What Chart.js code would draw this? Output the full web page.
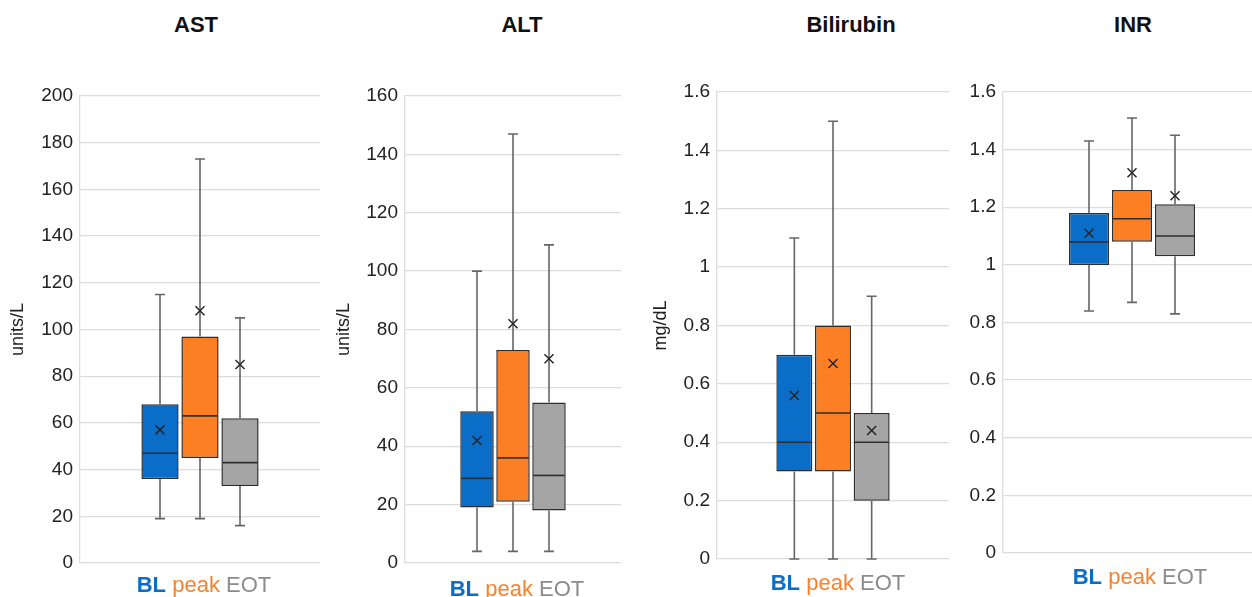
<!DOCTYPE html>
<html>
<head>
<meta charset="utf-8">
<script src="https://cdn.jsdelivr.net/npm/chart.js@4"></script>
<style>
  html, body { margin: 0; padding: 0; background: #fff; overflow: hidden; }
  body { width: 1252px; height: 597px; position: relative; font-family: "Liberation Sans", Arial, sans-serif; }
  .panel { position: absolute; }
  .title { position: absolute; font-weight: bold; font-size: 22px; line-height: 26px; color: #111; transform: translateX(-50%); white-space: nowrap; }
  .groups { position: absolute; font-size: 22px; line-height: 26px; transform: translateX(-50%); white-space: nowrap; }
  .bl { color: #0a6ec9; font-weight: 600; }
  .pk { color: #f7822e; }
  .eo { color: #8c8c8c; }
</style>
</head>
<body>
<div class="title" style="left:196px;top:12px">AST</div>
<div class="title" style="left:522px;top:12px">ALT</div>
<div class="title" style="left:851px;top:12px">Bilirubin</div>
<div class="title" style="left:1133px;top:12px">INR</div>

<div class="panel" id="p-ast"><canvas id="ast-chart"></canvas></div>
<div class="panel" id="p-alt"><canvas id="alt-chart"></canvas></div>
<div class="panel" id="p-bili"><canvas id="bili-chart"></canvas></div>
<div class="panel" id="p-inr"><canvas id="inr-chart"></canvas></div>

<div class="groups" style="left:204px;top:572px"><span class="bl">BL</span> <span class="pk">peak</span> <span class="eo">EOT</span></div>
<div class="groups" style="left:517px;top:576px"><span class="bl">BL</span> <span class="pk">peak</span> <span class="eo">EOT</span></div>
<div class="groups" style="left:838px;top:570px"><span class="bl">BL</span> <span class="pk">peak</span> <span class="eo">EOT</span></div>
<div class="groups" style="left:1140px;top:564px"><span class="bl">BL</span> <span class="pk">peak</span> <span class="eo">EOT</span></div>

<script>
const seriesNames = ["BL", "peak", "EOT"];
const seriesColors = ["#0a6ec9", "#fd7f23", "#a5a5a5"];

// AST (units/L)
const astMin = [19, 19, 16];
const astQ1 = [36, 45, 33];
const astMedian = [47, 63, 43];
const astQ3 = [68, 97, 62];
const astMax = [115, 173, 105];
const astMean = [57, 108, 85];

// ALT (units/L)
const altMin = [4, 4, 4];
const altQ1 = [19, 21, 18];
const altMedian = [29, 36, 30];
const altQ3 = [52, 73, 55];
const altMax = [100, 147, 109];
const altMean = [42, 82, 70];

// Bilirubin (mg/dL)
const biliMin = [0, 0, 0];
const biliQ1 = [0.3, 0.3, 0.2];
const biliMedian = [0.4, 0.5, 0.4];
const biliQ3 = [0.7, 0.8, 0.5];
const biliMax = [1.1, 1.5, 0.9];
const biliMean = [0.56, 0.67, 0.44];

// INR
const inrMin = [0.84, 0.87, 0.83];
const inrQ1 = [1.0, 1.08, 1.03];
const inrMedian = [1.08, 1.16, 1.1];
const inrQ3 = [1.18, 1.26, 1.21];
const inrMax = [1.43, 1.51, 1.45];
const inrMean = [1.11, 1.32, 1.24];

// whiskers, median and mean marker on top of the floating bars
const boxExtras = {
  id: "boxExtras",
  afterDatasetsDraw(chart) {
    const ctx = chart.ctx;
    const y = chart.scales.y;
    const st = chart.options.plugins.boxExtras;
    chart.data.datasets.forEach((ds, i) => {
      const bar = chart.getDatasetMeta(i).data[0];
      const x = bar.x;
      const half = bar.width / 2;
      const yMin = y.getPixelForValue(st.min[i]);
      const yMax = y.getPixelForValue(st.max[i]);
      const yQ1 = y.getPixelForValue(st.q1[i]);
      const yQ3 = y.getPixelForValue(st.q3[i]);
      const yMed = y.getPixelForValue(st.median[i]);
      const yMean = y.getPixelForValue(st.mean[i]);
      ctx.save();
      ctx.lineWidth = 1.6;
      ctx.strokeStyle = "#666";
      ctx.beginPath();
      ctx.moveTo(x, yQ3); ctx.lineTo(x, yMax);
      ctx.moveTo(x - 5, yMax); ctx.lineTo(x + 5, yMax);
      ctx.moveTo(x, yQ1); ctx.lineTo(x, yMin);
      ctx.moveTo(x - 5, yMin); ctx.lineTo(x + 5, yMin);
      ctx.stroke();
      ctx.strokeStyle = "#2e2e2e";
      ctx.beginPath();
      ctx.moveTo(x - half + 1, yMed); ctx.lineTo(x + half - 1, yMed);
      ctx.stroke();
      ctx.lineWidth = 1.5;
      ctx.strokeStyle = "#262626";
      ctx.beginPath();
      ctx.moveTo(x - 4.5, yMean - 4.5); ctx.lineTo(x + 4.5, yMean + 4.5);
      ctx.moveTo(x + 4.5, yMean - 4.5); ctx.lineTo(x - 4.5, yMean + 4.5);
      ctx.stroke();
      ctx.restore();
    });
  },
};

function makeBoxChart(canvasId, panelId, box, stats, axis) {
  const pad = 20;
  const panel = document.getElementById(panelId);
  const w = box.right - box.canvasLeft;
  const h = box.bottom - box.top + pad * 2;
  panel.style.left = box.canvasLeft + "px";
  panel.style.top = box.top - pad + "px";
  panel.style.width = w + "px";
  panel.style.height = h + "px";
  const axisWidth = box.left - box.canvasLeft;

  new Chart(document.getElementById(canvasId).getContext("2d"), {
    type: "bar",
    data: {
      labels: [""],
      datasets: seriesNames.map((name, i) => ({
        label: name,
        data: [[stats.q1[i], stats.q3[i]]],
        backgroundColor: seriesColors[i],
        borderColor: "#2e2e2e",
        borderWidth: 1.5,
        borderSkipped: false,
        categoryPercentage: 0.5,
        barPercentage: 0.93,
      })),
    },
    options: {
      responsive: true,
      maintainAspectRatio: false,
      animation: false,
      layout: { padding: { top: pad, bottom: pad, left: 0, right: 0 } },
      plugins: {
        legend: { display: false },
        tooltip: { enabled: false },
        boxExtras: stats,
      },
      scales: {
        x: { display: false },
        y: {
          min: 0,
          max: axis.max,
          ticks: {
            stepSize: axis.step,
            padding: 7,
            color: "#222",
            font: { family: "Liberation Sans", size: 19 },
            callback: (v) => String(+v.toFixed(2)),
          },
          grid: { color: "#dcdcdc", lineWidth: 1.3, drawTicks: false },
          border: { display: true, color: "#dcdcdc", width: 1.3 },
          title: {
            display: !!axis.title,
            text: axis.title,
            color: "#222",
            font: { family: "Liberation Sans", size: 18 },
            padding: { top: axis.titlePad, bottom: 0 },
          },
          afterFit: (scale) => {
            scale.width = axisWidth;
          },
        },
      },
    },
    plugins: [boxExtras],
  });
}

makeBoxChart("ast-chart", "p-ast",
  { canvasLeft: 0, left: 80, right: 320, top: 96, bottom: 563 },
  { min: astMin, q1: astQ1, median: astMedian, q3: astQ3, max: astMax, mean: astMean },
  { max: 200, step: 20, title: "units/L", titlePad: 7 });

makeBoxChart("alt-chart", "p-alt",
  { canvasLeft: 330, left: 405, right: 621, top: 96, bottom: 563 },
  { min: altMin, q1: altQ1, median: altMedian, q3: altQ3, max: altMax, mean: altMean },
  { max: 160, step: 20, title: "units/L", titlePad: 3 });

makeBoxChart("bili-chart", "p-bili",
  { canvasLeft: 645, left: 717, right: 949, top: 92, bottom: 559 },
  { min: biliMin, q1: biliQ1, median: biliMedian, q3: biliQ3, max: biliMax, mean: biliMean },
  { max: 1.6, step: 0.2, title: "mg/dL", titlePad: 5 });

makeBoxChart("inr-chart", "p-inr",
  { canvasLeft: 950, left: 1003, right: 1261, top: 92, bottom: 553 },
  { min: inrMin, q1: inrQ1, median: inrMedian, q3: inrQ3, max: inrMax, mean: inrMean },
  { max: 1.6, step: 0.2, title: "", titlePad: 0 });
</script>
</body>
</html>
